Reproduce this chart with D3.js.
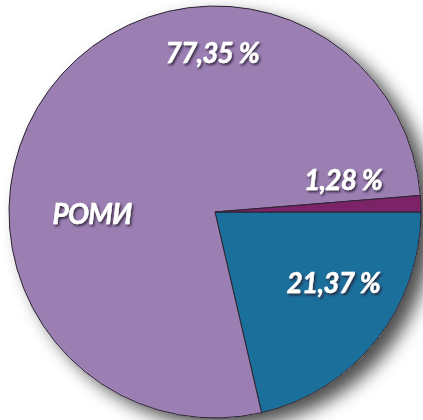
<!DOCTYPE html>
<html>
<head>
<meta charset="utf-8">
<script src="https://cdn.jsdelivr.net/npm/d3@7"></script>
<style>
  body { margin: 0; background: #fff; }
  svg { display: block; }
</style>
</head>
<body>
<div id="chart"></div>
<script>
// slices, clockwise from 3 o'clock
const groups = ['other', 'roma', 'small']
const shares = [21.37, 77.35, 1.28]
const colors = ['#1b6f9b', '#9b7fb3', '#7b2366']
const pctLabels = ['21,37 %', '77,35 %', '1,28 %']
const nameLabel = 'РОМИ'

const width = 423
const height = 420
const radius = 206
const cx = 215
const cy = 212

const svg = d3.select('#chart')
  .append('svg')
  .attr('width', width)
  .attr('height', height)

const defs = svg.append('defs')
const sh = defs.append('filter').attr('id', 'pieShadow')
  .attr('x', '-20%').attr('y', '-20%').attr('width', '140%').attr('height', '140%')
sh.append('feGaussianBlur').attr('in', 'SourceAlpha').attr('stdDeviation', 9)
sh.append('feOffset').attr('dx', 12).attr('dy', 9).attr('result', 'b')
sh.append('feComponentTransfer').append('feFuncA').attr('type', 'linear').attr('slope', 0.7)
const m = sh.append('feMerge')
m.append('feMergeNode')
m.append('feMergeNode').attr('in', 'SourceGraphic')

const ts = defs.append('filter').attr('id', 'txtShadow')
  .attr('x', '-20%').attr('y', '-30%').attr('width', '140%').attr('height', '160%')
ts.append('feDropShadow').attr('dx', 1.5).attr('dy', 2).attr('stdDeviation', 1.2)
  .attr('flood-color', '#2a2030').attr('flood-opacity', 0.85)

const g = svg.append('g').attr('transform', 'translate(' + cx + ',' + cy + ')')

const pie = d3.pie()
  .sort(null)
  .startAngle(Math.PI / 2)
  .endAngle(Math.PI / 2 + 2 * Math.PI)
  .value(d => d)

const arcs = pie(shares)
const path = d3.arc().innerRadius(0).outerRadius(radius)

// shadow disc
g.append('circle')
  .attr('r', radius)
  .attr('fill', '#fff')
  .attr('filter', 'url(#pieShadow)')

g.selectAll('.slice')
  .data(arcs)
  .enter()
  .append('path')
  .attr('class', 'slice')
  .attr('d', path)
  .attr('fill', (d, i) => colors[i])
  .attr('stroke', '#2b2330')
  .attr('stroke-width', 1)
  .attr('stroke-linejoin', 'round')

// label spots (angle in degrees from 12 o'clock, distance from centre)
const labelSpots = [
  { a: 121, r: 138 },
  { a: -1, r: 159 },
  { a: 76, r: 132 }
]

const labelText = svg.append('g')
  .attr('font-family', 'Lato, "Open Sans", sans-serif')
  .attr('font-weight', 'bold')
  .attr('font-style', 'italic')
  .attr('font-size', 28)
  .attr('fill', '#fff')
  .attr('text-anchor', 'middle')
  .attr('filter', 'url(#txtShadow)')

labelText.selectAll('.pct')
  .data(arcs)
  .enter()
  .append('text')
  .attr('class', 'pct')
  .attr('x', (d, i) => cx + labelSpots[i].r * Math.sin(labelSpots[i].a * Math.PI / 180))
  .attr('y', (d, i) => cy - labelSpots[i].r * Math.cos(labelSpots[i].a * Math.PI / 180))
  .attr('dy', '0.36em')
  .attr('letter-spacing', -0.8)
  .attr('stroke', '#fff')
  .attr('stroke-width', 0.4)
  .text((d, i) => pctLabels[i])

labelText.append('text')
  .attr('x', cx - 123)
  .attr('y', cy + 12)
  .attr('letter-spacing', -0.8)
  .attr('stroke', '#fff')
  .attr('stroke-width', 0.4)
  .text(nameLabel)
</script>
</body>
</html>
